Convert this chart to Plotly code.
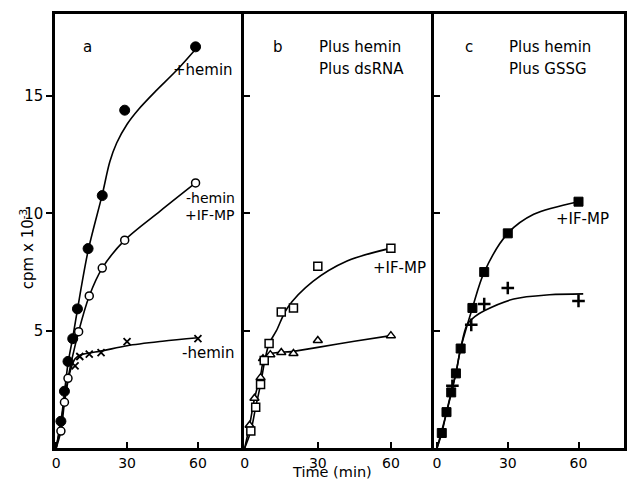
import plotly.graph_objects as go
from plotly.subplots import make_subplots

# ---------------- data ----------------
# Panel a
a_plus_hemin_t = [2, 3.5, 5, 7, 9, 13.5, 19.5, 29, 59]
a_plus_hemin_y = [1.14, 2.42, 3.69, 4.66, 5.93, 8.5, 10.76, 14.4, 17.1]
a_plus_hemin_fit_t = [0, 2, 5, 7, 9, 13.5, 19.5, 22.7, 25.6, 30, 35, 42, 51, 59]
a_plus_hemin_fit_y = [0, 1.1, 3.6, 4.7, 5.9, 8.4, 10.8, 12.2, 13.0, 13.8, 14.45, 15.2, 16.1, 17.0]

a_minus_ifmp_t = [2, 3.5, 5, 9.5, 14, 19.5, 29, 59]
a_minus_ifmp_y = [0.72, 1.95, 2.97, 4.96, 6.48, 7.67, 8.86, 11.3]
a_minus_ifmp_fit_t = [0, 2, 3.5, 5, 9.5, 14, 19.5, 29, 44, 59]
a_minus_ifmp_fit_y = [0, 0.72, 1.95, 2.97, 4.96, 6.48, 7.67, 8.86, 10.1, 11.3]

a_minus_hemin_t = [8, 10, 14, 19, 30, 60]
a_minus_hemin_y = [3.5, 3.9, 4.0, 4.07, 4.53, 4.66]
a_minus_hemin_fit_t = [0, 3, 6, 8, 10, 20, 30, 45, 60]
a_minus_hemin_fit_y = [0, 1.7, 3.3, 3.8, 3.95, 4.15, 4.36, 4.55, 4.7]

# Panel b
b_sq_t = [2.5, 4.5, 6.5, 8, 10, 15, 20, 30, 60]
b_sq_y = [0.72, 1.74, 2.71, 3.73, 4.45, 5.8, 5.97, 7.75, 8.52]
b_sq_fit_t = [0, 2.5, 4.5, 6.5, 8, 10, 13, 17.5, 28, 42, 60]
b_sq_fit_y = [0, 0.72, 1.74, 2.71, 3.6, 4.45, 5.0, 5.97, 7.1, 7.97, 8.52]

b_tri_t = [2, 4, 6.5, 7.5, 10.5, 15, 20, 30, 60]
b_tri_y = [0.97, 2.12, 3.0, 3.81, 3.98, 4.07, 4.03, 4.58, 4.79]
b_tri_fit_t = [0, 2, 4, 6.5, 8.7, 20, 30, 45, 60]
b_tri_fit_y = [0, 0.97, 2.1, 3.1, 3.94, 4.12, 4.29, 4.55, 4.79]

# Panel c
c_sq_t = [2, 4, 6, 8, 10, 15, 20, 30, 60]
c_sq_y = [0.64, 1.53, 2.37, 3.18, 4.24, 5.97, 7.5, 9.15, 10.5]
c_sq_fit_t = [0, 2, 4, 6, 8, 10, 15, 20, 30, 41, 60]
c_sq_fit_y = [0, 0.64, 1.53, 2.37, 3.18, 4.24, 5.97, 7.5, 9.15, 9.96, 10.5]

c_plus_t = [6.5, 14.5, 20, 30, 60]
c_plus_y = [2.65, 5.25, 6.14, 6.82, 6.27]
c_plus_fit_t = [0, 4, 8, 10, 12.7, 16, 20, 32.5, 47.7, 62]
c_plus_fit_y = [0, 1.5, 3.2, 4.24, 5.25, 5.6, 5.85, 6.35, 6.53, 6.57]

y_ticks = [5, 10, 15]
x_ticks = [0, 30, 60]

FONT = "DejaVu Sans"
BLACK = "black"

fig = make_subplots(rows=1, cols=3, shared_yaxes=True, horizontal_spacing=0)


def curve(t, y, col):
    fig.add_trace(go.Scatter(x=t, y=y, mode="lines",
                             line=dict(color=BLACK, width=1.6, shape="spline", smoothing=0.9),
                             showlegend=False, hoverinfo="skip"), row=1, col=col)


def points(t, y, col, symbol, size, fill, lw=1.5):
    fig.add_trace(go.Scatter(x=t, y=y, mode="markers",
                             marker=dict(symbol=symbol, size=size, color=fill,
                                         line=dict(color=BLACK, width=lw)),
                             showlegend=False, cliponaxis=False), row=1, col=col)


# curves
curve(a_plus_hemin_fit_t, a_plus_hemin_fit_y, 1)
curve(a_minus_ifmp_fit_t, a_minus_ifmp_fit_y, 1)
curve(a_minus_hemin_fit_t, a_minus_hemin_fit_y, 1)
curve(b_sq_fit_t, b_sq_fit_y, 2)
curve(b_tri_fit_t, b_tri_fit_y, 2)
curve(c_sq_fit_t, c_sq_fit_y, 3)
curve(c_plus_fit_t, c_plus_fit_y, 3)

# markers
points(a_minus_hemin_t, a_minus_hemin_y, 1, "x-thin", 7, BLACK, 1.8)
points(a_minus_ifmp_t, a_minus_ifmp_y, 1, "circle", 8, "white", 1.5)
points(a_plus_hemin_t, a_plus_hemin_y, 1, "circle", 10, BLACK, 1)
points(b_tri_t, b_tri_y, 2, "triangle-up", 8, "white", 1.5)
points(b_sq_t, b_sq_y, 2, "square", 8, "white", 1.5)
points(c_sq_t, c_sq_y, 3, "square", 9, BLACK, 1)
points(c_plus_t, c_plus_y, 3, "cross-thin", 9, BLACK, 2.5)

# axes
d1 = 190 / 572
d2 = 381 / 572
domains = [[0, d1], [d1, d2], [d2, 1]]
x_ranges = [[-0.5, 79.5], [-0.3, 77.7], [-1.3, 79.3]]
for i in range(3):
    xa = "xaxis" if i == 0 else f"xaxis{i + 1}"
    ya = "yaxis" if i == 0 else f"yaxis{i + 1}"
    fig.layout[xa].update(domain=domains[i], range=x_ranges[i], tickvals=x_ticks,
                          ticks="inside", ticklen=6, tickwidth=1.5, tickcolor=BLACK,
                          showline=True, linecolor=BLACK, linewidth=2.5, mirror=True,
                          showgrid=False, zeroline=False,
                          tickfont=dict(family=FONT, size=14, color=BLACK))
    fig.layout[ya].update(range=[0, 18.5], tickvals=y_ticks,
                          ticks="outside" if i == 0 else "inside", ticklen=6,
                          tickwidth=1.5, tickcolor=BLACK,
                          showline=True, linecolor=BLACK, linewidth=2.5,
                          mirror=(i == 2),
                          showgrid=False, zeroline=False,
                          tickfont=dict(family=FONT, size=15, color=BLACK))

# axis titles
fig.add_annotation(x=-28 / 572, y=199 / 434, xref="paper", yref="paper",
                   text="cpm x 10<sup>-3</sup>", textangle=-90, showarrow=False,
                   xanchor="center", yanchor="middle",
                   font=dict(family=FONT, size=15, color=BLACK))
fig.add_annotation(x=(333 - 55) / 572, y=-24 / 434, xref="paper", yref="paper",
                   text="Time (min)", showarrow=False,
                   xanchor="center", yanchor="middle",
                   font=dict(family=FONT, size=14.5, color=BLACK))

ann = [
    ("x", 13.4, 17.1, 15, "a", "center"),
    ("x", 75.5, 16.1, 15, "+hemin", "right"),
    ("x", 76.5, 10.64, 14, "-hemin", "right"),
    ("x", 76.5, 9.92, 14, "+IF-MP", "right"),
    ("x", 76.0, 4.07, 15, "-hemin", "right"),
    ("x2", 13.75, 17.1, 15, "b", "center"),
    ("x2", 29.6, 17.1, 15, "Plus hemin", "left"),
    ("x2", 29.6, 16.14, 15, "Plus dsRNA", "left"),
    ("x2", 51.7, 7.67, 15, "+IF-MP", "left"),
    ("x3", 13.5, 17.1, 15, "c", "center"),
    ("x3", 29.5, 17.1, 15, "Plus hemin", "left"),
    ("x3", 29.5, 16.14, 15, "Plus GSSG", "left"),
    ("x3", 49.8, 9.75, 15, "+IF-MP", "left"),
]
for xr, xv, yv, fs, txt, anc in ann:
    fig.add_annotation(x=xv, y=yv, xref=xr, yref="y", text=txt, showarrow=False,
                       xanchor=anc, yanchor="middle",
                       font=dict(family=FONT, size=fs, color=BLACK))

fig.update_layout(width=628, height=481, margin=dict(l=55, r=1, t=14, b=33),
                  paper_bgcolor="white", plot_bgcolor="white", showlegend=False)

# remove the browser's default page margin so the figure sits at the window corner
fig.write_html("out.html", config={"displayModeBar": False},
               post_script="document.body.style.margin='0';")
